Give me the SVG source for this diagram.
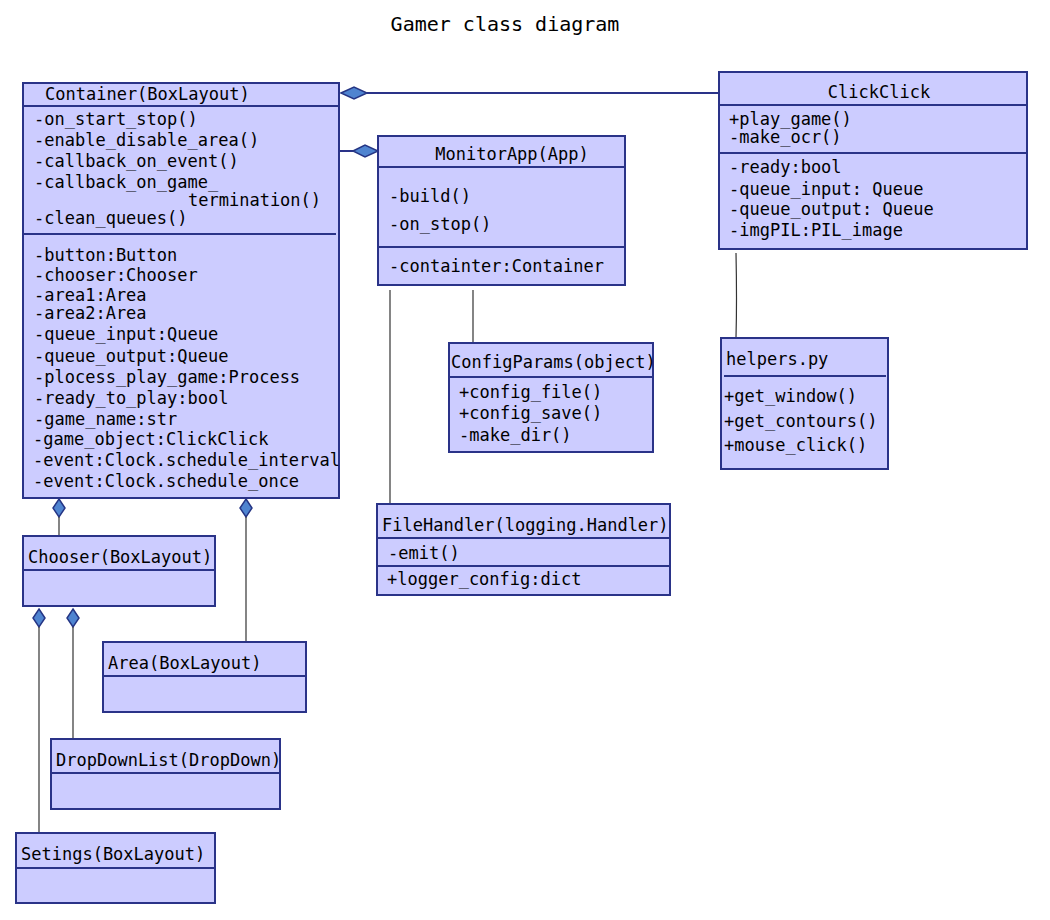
<svg xmlns="http://www.w3.org/2000/svg" width="1050" height="920" viewBox="0 0 1050 920">
<style>
.box{fill:#ccccff;stroke:#2a3388;stroke-width:2}
.sep{stroke:#2a3388;stroke-width:2}
text{font-family:"DejaVu Sans Mono",monospace;font-size:17px;fill:#000}
.title{font-size:20px}
.dia{fill:#4f84d0;stroke:#253584;stroke-width:1.5}
.thin{stroke:#333;stroke-width:1.2;fill:none}
.navy{stroke:#2a3388;stroke-width:2;fill:none}
</style>
<rect width="1050" height="920" fill="#fff"/>
<text class="title" x="505" y="31" text-anchor="middle">Gamer class diagram</text>

<g id="connectors">
<line class="navy" x1="367" y1="93" x2="719" y2="93"/>
<polygon class="dia" points="341,93 354,87 367,93 354,99"/>
<line class="navy" x1="339" y1="151" x2="353" y2="151"/>
<polygon class="dia" points="353,151 365,145 378,151 365,157"/>
<path class="thin" d="M390,290 L390,504"/>
<path class="thin" d="M473,290 L473,343"/>
<path class="thin" d="M736,253 Q737,300 736,338"/>
<polygon class="dia" points="59,499 65,508 59,517 53,508"/>
<line class="thin" x1="59" y1="517" x2="59" y2="536"/>
<polygon class="dia" points="246,499 252,508 246,517 240,508"/>
<path class="thin" d="M246,517 L246,642"/>
<polygon class="dia" points="39,609 45,618 39,627 33,618"/>
<line class="thin" x1="39" y1="627" x2="39" y2="833"/>
<polygon class="dia" points="73,609 79,618 73,627 67,618"/>
<line class="thin" x1="73" y1="627" x2="73" y2="739"/>
</g>

<g id="container">
<rect class="box" x="23" y="83" width="316" height="415"/>
<line class="sep" x1="23" y1="106" x2="339" y2="106"/>
<line class="sep" x1="23" y1="234" x2="336" y2="234"/>
<text x="45" y="100">Container(BoxLayout)</text>
<text x="34" y="125">-on_start_stop()</text>
<text x="34" y="146">-enable_disable_area()</text>
<text x="34" y="167">-callback_on_event()</text>
<text x="34" y="188">-callback_on_game_</text>
<text x="188" y="206">termination()</text>
<text x="34" y="224">-clean_queues()</text>
<text x="34" y="261">-button:Button</text>
<text x="34" y="281">-chooser:Chooser</text>
<text x="34" y="301">-area1:Area</text>
<text x="34" y="319">-area2:Area</text>
<text x="34" y="340">-queue_input:Queue</text>
<text x="34" y="362">-queue_output:Queue</text>
<text x="34" y="383">-plocess_play_game:Process</text>
<text x="34" y="404">-ready_to_play:bool</text>
<text x="34" y="425">-game_name:str</text>
<text x="33" y="445">-game_object:ClickClick</text>
<text x="33" y="466">-event:Clock.schedule_interval</text>
<text x="33" y="487">-event:Clock.schedule_once</text>
</g>

<g id="clickclick">
<rect class="box" x="719" y="72" width="308" height="177"/>
<line class="sep" x1="719" y1="105" x2="1027" y2="105"/>
<line class="sep" x1="719" y1="153" x2="1027" y2="153"/>
<text x="879" y="98" text-anchor="middle">ClickClick</text>
<text x="729" y="125">+play_game()</text>
<text x="729" y="143">-make_ocr()</text>
<text x="729" y="173">-ready:bool</text>
<text x="729" y="195">-queue_input: Queue</text>
<text x="729" y="215">-queue_output: Queue</text>
<text x="729" y="236">-imgPIL:PIL_image</text>
</g>

<g id="monitorapp">
<rect class="box" x="378" y="136" width="247" height="149"/>
<line class="sep" x1="378" y1="167" x2="625" y2="167"/>
<line class="sep" x1="378" y1="247" x2="625" y2="247"/>
<text x="512" y="160" text-anchor="middle">MonitorApp(App)</text>
<text x="389" y="202">-build()</text>
<text x="389" y="230">-on_stop()</text>
<text x="389" y="272">-containter:Container</text>
</g>

<g id="configparams">
<rect class="box" x="449" y="343" width="204" height="109"/>
<line class="sep" x1="449" y1="377" x2="653" y2="377"/>
<text x="451" y="368">ConfigParams(object)</text>
<text x="459" y="398">+config_file()</text>
<text x="459" y="419">+config_save()</text>
<text x="459" y="441">-make_dir()</text>
</g>

<g id="helpers">
<rect class="box" x="721" y="338" width="167" height="131"/>
<line class="sep" x1="724" y1="376" x2="886" y2="376"/>
<text x="726" y="365">helpers.py</text>
<text x="724" y="402">+get_window()</text>
<text x="724" y="427">+get_contours()</text>
<text x="724" y="451">+mouse_click()</text>
</g>

<g id="filehandler">
<rect class="box" x="377" y="504" width="293" height="91"/>
<line class="sep" x1="377" y1="538" x2="670" y2="538"/>
<line class="sep" x1="377" y1="566" x2="670" y2="566"/>
<text x="382" y="531">FileHandler(logging.Handler)</text>
<text x="388" y="559">-emit()</text>
<text x="387" y="585">+logger_config:dict</text>
</g>

<g id="chooser">
<rect class="box" x="23" y="536" width="192" height="70"/>
<line class="sep" x1="23" y1="570" x2="215" y2="570"/>
<text x="28" y="563">Chooser(BoxLayout)</text>
</g>

<g id="area">
<rect class="box" x="103" y="642" width="203" height="70"/>
<line class="sep" x1="103" y1="676" x2="306" y2="676"/>
<text x="108" y="669">Area(BoxLayout)</text>
</g>

<g id="dropdownlist">
<rect class="box" x="51" y="739" width="229" height="70"/>
<line class="sep" x1="51" y1="773" x2="280" y2="773"/>
<text x="56" y="766">DropDownList(DropDown)</text>
</g>

<g id="setings">
<rect class="box" x="16" y="833" width="199" height="70"/>
<line class="sep" x1="16" y1="868" x2="215" y2="868"/>
<text x="21" y="860">Setings(BoxLayout)</text>
</g>
</svg>
